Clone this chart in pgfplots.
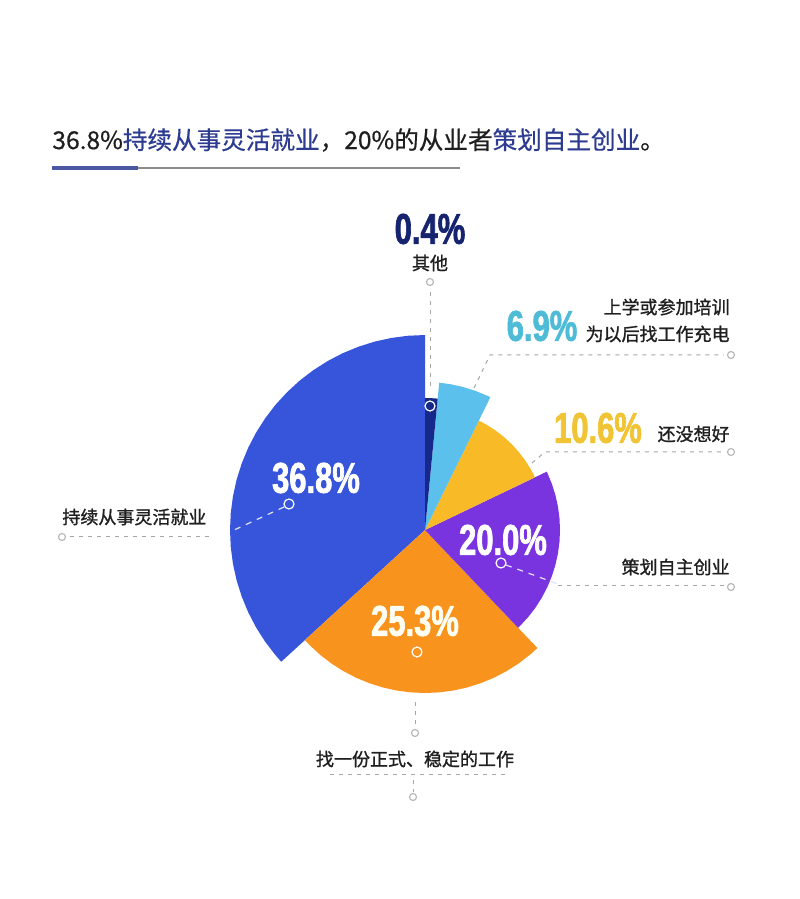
\documentclass[border=0pt]{standalone}
\usepackage{fontspec}
\setmainfont{Noto Sans CJK SC}
\newfontfamily\labfont[FakeBold=1.2]{Noto Sans CJK SC}
\newfontfamily\titfont[FakeBold=0.6]{Noto Sans CJK SC}
\newfontfamily\numfont[FakeStretch=0.72, FakeBold=1.6]{Liberation Sans}
\usepackage{pgfplots}
\usepgfplotslibrary{polar}
\pgfplotsset{compat=1.18}

\definecolor{cblue}{RGB}{54,85,219}
\definecolor{corange}{RGB}{248,148,30}
\definecolor{cpurple}{RGB}{121,52,224}
\definecolor{cyellow}{RGB}{249,186,40}
\definecolor{clight}{RGB}{92,192,236}
\definecolor{cnavy}{RGB}{22,40,138}
\definecolor{ttblue}{RGB}{45,60,145}
\definecolor{tcyan}{RGB}{78,188,214}
\definecolor{tyellow}{RGB}{240,196,52}
\definecolor{tnavy}{RGB}{22,36,112}
\definecolor{ticon}{RGB}{185,185,185}

\begin{document}
\begin{tikzpicture}
% sectors: angle (deg), radius (px); 36.8 / 25.3 / 20.0 / 10.6 / 6.9 / 0.4 %
\begin{polaraxis}[
    at={(212.5bp,184.5bp)}, anchor=center,
    scale only axis, width=200bp, height=200bp,
    ymin=0, ymax=200,
    hide axis, clip=false,
]
    % 36.8% 持续从事灵活就业
    \addplot[fill=cblue, draw=none] coordinates {
    (0,0) (90,195) (95,195) (100,195) (105,195) (110,195) (115,195)
    (120,195) (125,195) (130,195) (135,195) (140,195) (145,195)
    (150,195) (155,195) (160,195) (165,195) (170,195) (175,195)
    (180,195) (185,195) (190,195) (195,195) (200,195) (205,195)
    (210,195) (215,195) (220,195) (222.5,195)
    };
    % 25.3% 找一份正式、稳定的工作
    \addplot[fill=corange, draw=none] coordinates {
    (0,0) (222.5,163) (225,163) (230,163) (235,163) (240,163) (245,163)
    (250,163) (255,163) (260,163) (265,163) (270,163) (275,163)
    (280,163) (285,163) (290,163) (295,163) (300,163) (305,163)
    (310,163) (313.6,163)
    };
    % 20.0% 策划自主创业
    \addplot[fill=cpurple, draw=none] coordinates {
    (0,0) (-46.4,135) (-45,135) (-40,135) (-35,135) (-30,135) (-25,135)
    (-20,135) (-15,135) (-10,135) (-5,135) (0,135) (5,135) (10,135)
    (15,135) (20,135) (25,135) (25.6,135)
    };
    % 10.6% 还没想好
    \addplot[fill=cyellow, draw=none] coordinates {
    (0,0) (25.6,122) (30,122) (35,122) (40,122) (45,122) (50,122)
    (55,122) (60,122) (63.8,122)
    };
    % 6.9% 上学或参加培训
    \addplot[fill=clight, draw=none] coordinates {
    (0,0) (63.8,148) (65,148) (70,148) (75,148) (80,148) (84.5,148)
    };
    % 0.4% 其他
    \addplot[fill=cnavy, draw=none] coordinates {
    (0,0) (84.5,132) (87,132) (90,132)
    };
\end{polaraxis}

\begin{scope}[x=0.5bp, y=-0.5bp, shift={(0,449.5bp)}]
    \path[use as bounding box] (0,0) rectangle (800,899);
    \tikzset{lab/.style={font=\labfont\fontsize{9bp}{11bp}\selectfont, text=black!88, inner sep=0pt},
             num/.style={font=\numfont\bfseries\fontsize{21.5bp}{24bp}\selectfont, inner sep=0pt},
             lead/.style={draw=black!35, line width=0.5bp, dash pattern=on 2bp off 2.5bp},
             wlead/.style={draw=white!85!cblue, line width=0.6bp, dash pattern=on 3bp off 3bp},
             icon/.style={draw=ticon, line width=0.6bp},
             dot/.style={draw=white, line width=0.6bp}}

    % title
    \node[anchor=west, inner sep=0pt, font=\titfont\fontsize{12.3bp}{14bp}\selectfont, text=black!88]
        at (52,140) {36.8\%\textcolor{ttblue}{持续从事灵活就业}，20\%的从业者\textcolor{ttblue}{策划自主创业}。};
    \draw[line width=2bp, color=ttblue!85!white] (52,168) -- (138,168);
    \draw[line width=0.7bp, color=black!45] (138,168) -- (460,168);

    % inner values
    \node[num, text=white] at (316,478) {36.8\%};
    \node[num, text=white] at (503,540) {20.0\%};
    \node[num, text=white!95!yellow] at (415,621) {25.3\%};

    % 0.4%
    \node[num, text=tnavy] at (430,229) {0.4\%};
    \node[lab] at (430,263) {其他};
    \draw[icon] (430,282) circle (3.5);
    \draw[lead] (430,292) -- (430,390);
    \draw[dot] (430,406) circle (5);

    % 6.9%
    \node[num, text=tcyan] at (542,326) {6.9\%};
    \node[lab, anchor=east] at (730,307) {上学或参加培训};
    \node[lab, anchor=east] at (730,334) {为以后找工作充电};
    \draw[lead] (474,388) -- (490,355) -- (724,355);
    \draw[icon] (731,355) circle (3.5);

    % 10.6%
    \node[num, text=tyellow] at (598,428) {10.6\%};
    \node[lab, anchor=east] at (730,434) {还没想好};
    \draw[lead] (532,463) -- (545,452) -- (724,452);
    \draw[icon] (731,452) circle (3.5);

    % 20.0%
    \node[lab, anchor=east] at (730,567) {策划自主创业};
    \draw[wlead] (506,565) -- (558,584);
    \draw[lead] (558,586) -- (724,586);
    \draw[icon] (731,587) circle (3.5);
    \draw[dot] (501,563) circle (5);

    % 36.8%
    \node[lab, anchor=west] at (62,517) {持续从事灵活就业};
    \draw[wlead] (284,507) -- (232,531);
    \draw[lead] (70,537) -- (210,537);
    \draw[icon] (62,537) circle (3.5);
    \draw[dot] (289,504) circle (5);

    % 25.3%
    \draw[dot] (417,652) circle (5);
    \node[lab] at (415,759) {找一份正式、稳定的工作};
    \draw[lead] (415,702) -- (415,726);
    \draw[icon] (415,733) circle (3.5);
    \draw[lead] (330,775) -- (510,775);
    \draw[lead] (413,780) -- (413,792);
    \draw[icon] (413,797) circle (3.5);
\end{scope}
\end{tikzpicture}
\end{document}
